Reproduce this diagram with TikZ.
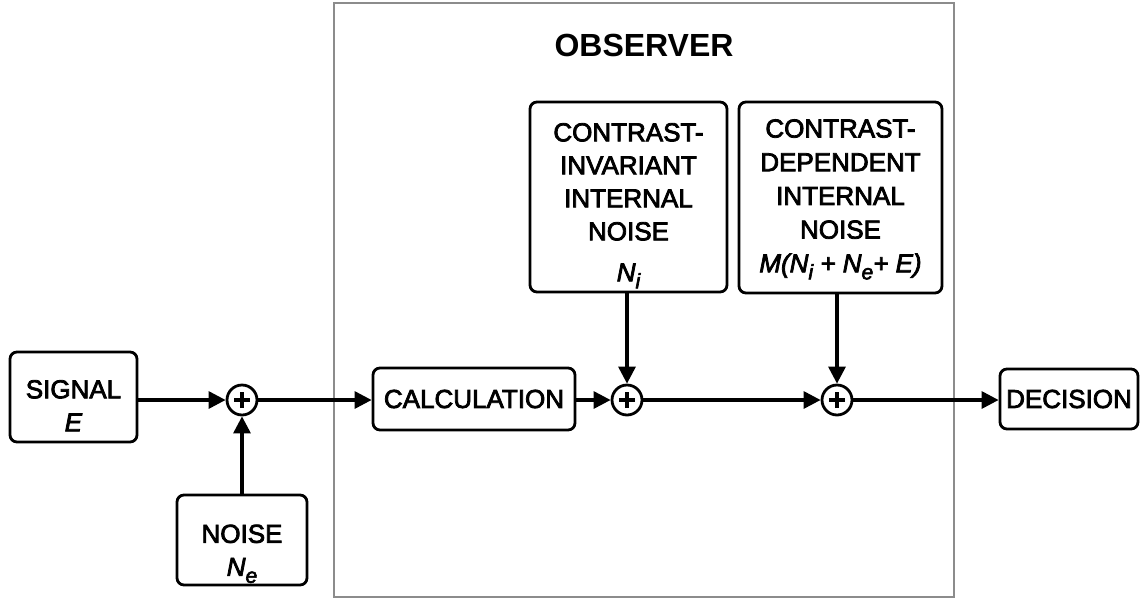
\documentclass[tikz,border=0pt]{standalone}
\usepackage{fontspec}
\setmainfont{Liberation Sans}
\newfontfamily\boxfont{Liberation Sans}[FakeBold=3]
\usetikzlibrary{arrows.meta}
\newcommand\subsc[1]{\raisebox{-7pt}{\fontsize{21}{21}\selectfont\itshape #1}}
\begin{document}
\begin{tikzpicture}[x=1pt,y=-1pt,
  box/.style={draw, line width=2.8pt, rounded corners=7pt, inner sep=0pt, align=center,
    font=\boxfont\fontsize{26}{33}\selectfont},
  sumnode/.style={circle, draw, line width=2.8pt, minimum size=30pt, inner sep=0pt,
    path picture={\draw[line width=3.4pt] (path picture bounding box.center) ++(-8pt,0pt) -- ++(16pt,0pt);
                  \draw[line width=3.4pt] (path picture bounding box.center) ++(0pt,-8pt) -- ++(0pt,16pt);}},
  conn/.style={line width=3.2pt, -{Triangle[length=17pt,width=17pt]}},
  frame/.style={draw=black!45, line width=2.4pt}]
\useasboundingbox (0,0) rectangle (1140,600);
\fill[white] (0,0) rectangle (1140,600);
% observer frame
\node[frame, minimum width=620pt, minimum height=594pt, inner sep=0pt] (obs) at (644,300) {};
\node[font=\bfseries\fontsize{32}{32}\selectfont] (obstitle) at (644,45) {OBSERVER};
% boxes
\node[box, minimum width=127pt, minimum height=90pt, text height=76.6pt, text depth=8pt] (signal) at (73.5,397) {SIGNAL\\\textit{E}};
\node[box, minimum width=130pt, minimum height=90pt, text height=79.6pt, text depth=8pt] (noise) at (242,540) {NOISE\\\textit{N}\subsc{e}};
\node[box, minimum width=202pt, minimum height=62pt] (calc) at (474,399) {CALCULATION};
\node[box, minimum width=197pt, minimum height=190pt, text height=178.6pt, text depth=10pt] (ci) at (628.5,197) {CONTRAST-\\INVARIANT\\INTERNAL\\NOISE\\[8pt]\textit{N}\subsc{i}};
\node[box, minimum width=203pt, minimum height=191pt, text height=159.6pt, text depth=10pt,
  font=\boxfont\fontsize{26}{33.7}\selectfont] (cd) at (840.5,197.5) {CONTRAST-\\DEPENDENT\\INTERNAL\\NOISE\\\textit{M(N}\subsc{i} \textit{+ N}\subsc{e}\textit{+ E)}};
\node[box, minimum width=138pt, minimum height=60pt] (decision) at (1069,399) {DECISION};
% summing junctions
\node[sumnode] (s1) at (242,400) {};
\node[sumnode] (s2) at (627,400) {};
\node[sumnode] (s3) at (837,400) {};
% connectors
\draw[conn] (signal.east |- s1) -- (s1.west);
\draw[conn] (noise.north) -- (s1.south);
\draw[conn] (s1.east) -- (calc.west |- s1);
\draw[conn] (calc.east |- s2) -- (s2.west);
\draw[conn] (ci.south -| s2) -- (s2.north);
\draw[conn] (s2.east) -- (s3.west);
\draw[conn] (cd.south -| s3) -- (s3.north);
\draw[conn] (s3.east) -- (decision.west |- s3);
\end{tikzpicture}
\end{document}
